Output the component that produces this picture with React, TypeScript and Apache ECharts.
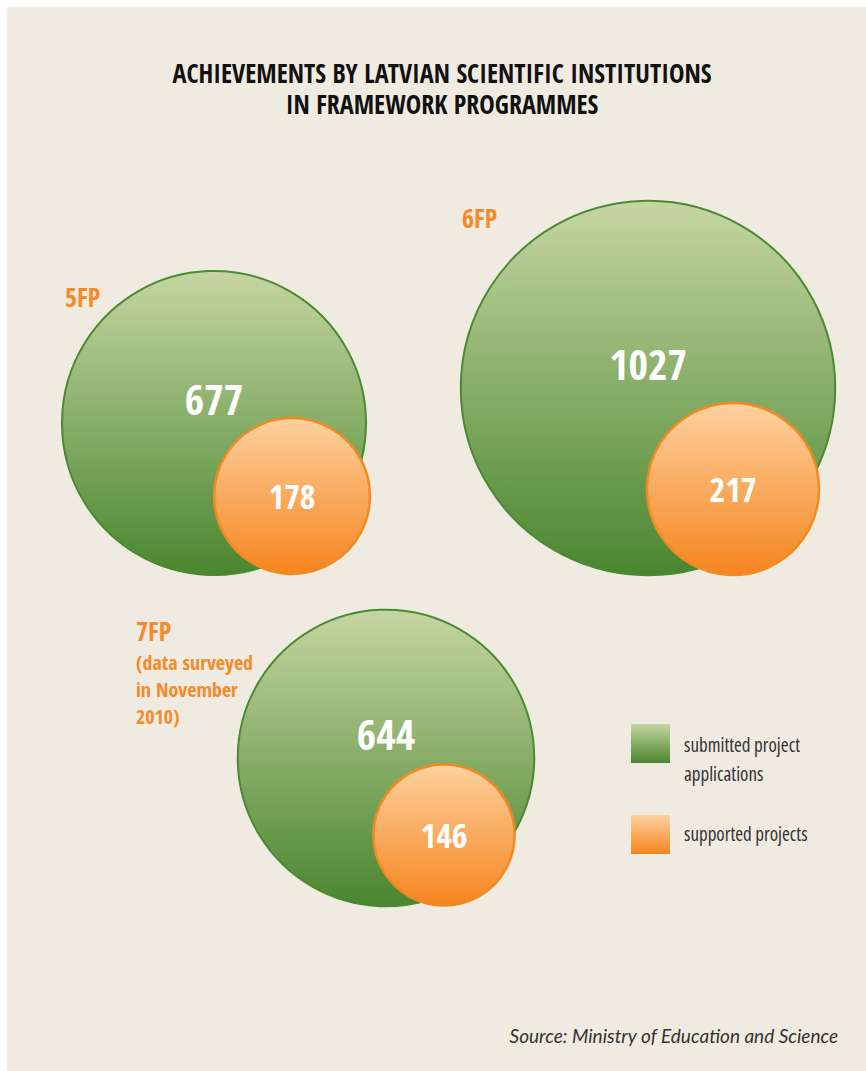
import React, { useEffect, useRef } from "react";
import * as echarts from "echarts";

// ---- data ----
const programmes = ["5FP", "6FP", "7FP"];
const submittedApplications = [677, 1027, 644];
const supportedProjects = [178, 217, 146];
const legendLabels = ["submitted project\napplications", "supported projects"];
const titleLines = ["ACHIEVEMENTS BY LATVIAN SCIENTIFIC INSTITUTIONS", "IN FRAMEWORK PROGRAMMES"];
const sourceText = "Source: Ministry of Education and Science";
const noteText = "(data surveyed\nin November\n2010)";

// ---- layout (pixel positions of bubble centres on the canvas) ----
const bigCentres = [
  [214, 423],
  [648, 388],
  [386, 758],
];
const smallCentres = [
  [292, 496],
  [733, 489],
  [444, 835],
];
const RADIUS_PER_SQRT = 152 / Math.sqrt(677);

const W = 866;
const H = 1071;
const COND = "'Open Sans Condensed', 'Roboto Condensed', sans-serif";
const ORANGE = "#f58a2a";

const greenGrad = () =>
  new echarts.graphic.LinearGradient(0, 0, 0, 1, [
    { offset: 0, color: "#c6d5a2" },
    { offset: 1, color: "#4a862f" },
  ]);
const orangeGrad = () =>
  new echarts.graphic.LinearGradient(0, 0, 0, 1, [
    { offset: 0, color: "#fdd19f" },
    { offset: 1, color: "#f6851f" },
  ]);

export default function App() {
  const ref = useRef<HTMLDivElement>(null);
  useEffect(() => {
    if (!ref.current) return;
    const chart = echarts.init(ref.current, null, { renderer: "svg" });
    const bigData = programmes.map((p, i) => ({
      name: p,
      value: [bigCentres[i][0], bigCentres[i][1], submittedApplications[i]],
    }));
    const smallData = programmes.map((p, i) => ({
      name: p,
      value: [smallCentres[i][0], smallCentres[i][1], supportedProjects[i]],
    }));
    const size = (v: number[]) => 2 * RADIUS_PER_SQRT * Math.sqrt(v[2]);
    const progLabelPos = [
      [65, 297],
      [462, 218],
      [136, 631],
    ];
    chart.setOption({
      animation: false,
      backgroundColor: "#ffffff",
      grid: { left: 0, top: 0, right: 0, bottom: 0 },
      xAxis: { type: "value", min: 0, max: W, show: false },
      yAxis: { type: "value", min: 0, max: H, inverse: true, show: false },
      graphic: [
        {
          type: "rect",
          z: -10,
          shape: { x: 7, y: 7, width: W - 7, height: H - 7 },
          style: { fill: "#f0ebe0" },
        },
        {
          type: "text",
          x: 442,
          y: 57,
          style: {
            text: titleLines.join("\n"),
            fill: "#111111",
            font: `bold 26px ${COND}`,
            lineHeight: 31,
            textAlign: "center",
            textVerticalAlign: "top",
          },
        },
        ...programmes.map((p, i) => ({
          type: "text",
          x: progLabelPos[i][0],
          y: progLabelPos[i][1],
          style: {
            text: p,
            fill: ORANGE,
            font: `bold 26px ${COND}`,
            textAlign: "left",
            textVerticalAlign: "middle",
          },
        })),
        {
          type: "text",
          x: 136,
          y: 649,
          style: {
            text: noteText,
            fill: ORANGE,
            font: `bold 20px ${COND}`,
            lineHeight: 27,
            textAlign: "left",
            textVerticalAlign: "top",
          },
        },
        {
          type: "rect",
          shape: { x: 631, y: 724, width: 39, height: 39 },
          style: { fill: greenGrad() },
        },
        {
          type: "rect",
          shape: { x: 631, y: 815, width: 39, height: 39 },
          style: { fill: orangeGrad() },
        },
        {
          type: "text",
          x: 684,
          y: 730,
          style: {
            text: legendLabels[0],
            fill: "#333333",
            font: `condensed 19px 'Open Sans', sans-serif`,
            lineHeight: 29,
            textAlign: "left",
            textVerticalAlign: "top",
          },
        },
        {
          type: "text",
          x: 684,
          y: 834,
          style: {
            text: legendLabels[1],
            fill: "#333333",
            font: `condensed 19px 'Open Sans', sans-serif`,
            textAlign: "left",
            textVerticalAlign: "middle",
          },
        },
        {
          type: "text",
          x: 838,
          y: 1035,
          style: {
            text: sourceText,
            fill: "#333333",
            font: `italic 19px Lato, 'Open Sans', sans-serif`,
            textAlign: "right",
            textVerticalAlign: "middle",
          },
        },
      ],
      series: [
        {
          name: "submitted project applications",
          type: "scatter",
          symbol: "circle",
          data: bigData,
          symbolSize: size,
          itemStyle: { color: greenGrad(), borderColor: "#4a8a32", borderWidth: 2, opacity: 1 },
          label: {
            show: true,
            position: "inside",
            offset: [0, -25],
            formatter: (p: any) => String(p.value[2]),
            color: "#ffffff",
            fontSize: 42,
            fontWeight: "bold",
            fontFamily: COND,
          },
          z: 2,
        },
        {
          name: "supported projects",
          type: "scatter",
          symbol: "circle",
          data: smallData,
          symbolSize: size,
          itemStyle: { color: orangeGrad(), borderColor: "#f28a22", borderWidth: 2.5, opacity: 1 },
          label: {
            show: true,
            position: "inside",
            formatter: (p: any) => String(p.value[2]),
            color: "#ffffff",
            fontSize: 34,
            fontWeight: "bold",
            fontFamily: COND,
          },
          z: 3,
        },
      ],
    });
    return () => chart.dispose();
  }, []);
  return (
    <div
      ref={ref}
      style={{ position: "absolute", left: 0, top: 0, width: W, height: H }}
    />
  );
}
